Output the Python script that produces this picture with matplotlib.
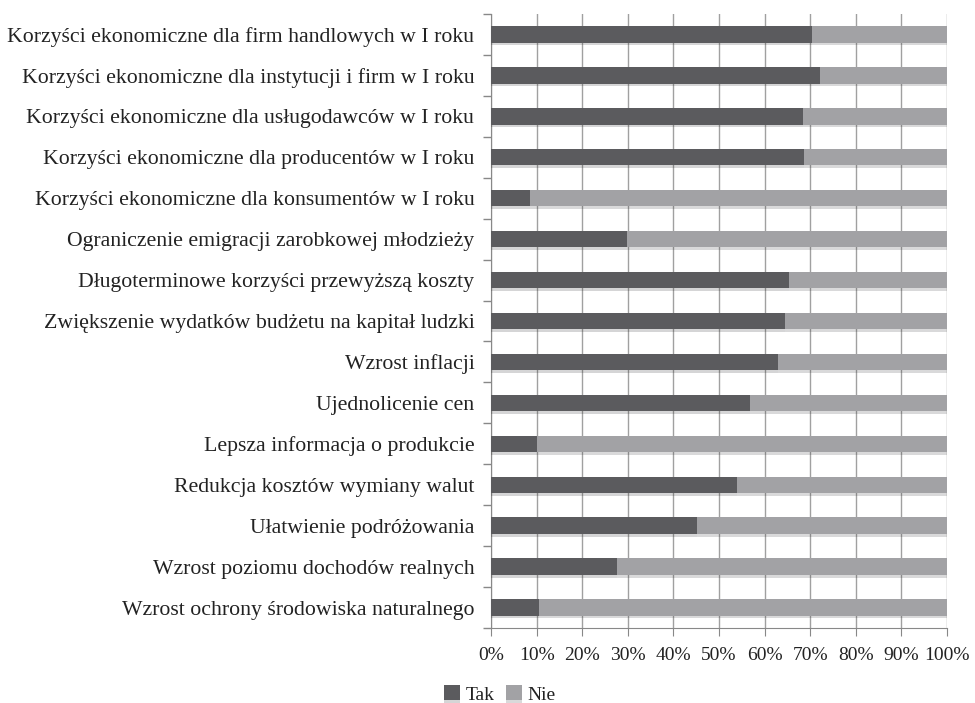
import numpy as np
import matplotlib
matplotlib.use("Agg")
import matplotlib.pyplot as plt
import matplotlib.patheffects as pe
from matplotlib.ticker import FixedLocator, PercentFormatter

plt.rcParams['font.family'] = ['Liberation Serif', 'DejaVu Serif']

# categories top to bottom
labels = [
    "Korzyści ekonomiczne dla firm handlowych w I roku",
    "Korzyści ekonomiczne dla instytucji i firm w I roku",
    "Korzyści ekonomiczne dla usługodawców w I roku",
    "Korzyści ekonomiczne dla producentów w I roku",
    "Korzyści ekonomiczne dla konsumentów w I roku",
    "Ograniczenie emigracji zarobkowej młodzieży",
    "Długoterminowe korzyści przewyższą koszty",
    "Zwiększenie wydatków budżetu na kapitał ludzki",
    "Wzrost inflacji",
    "Ujednolicenie cen",
    "Lepsza informacja o produkcie",
    "Redukcja kosztów wymiany walut",
    "Ułatwienie podróżowania",
    "Wzrost poziomu dochodów realnych",
    "Wzrost ochrony środowiska naturalnego",
]
tak = np.array([70.4, 72.1, 68.4, 68.6, 8.6, 29.8, 65.4, 64.5, 62.9, 56.8,
                10.1, 53.9, 45.2, 27.6, 10.5])
nie = 100 - tak

fig = plt.figure(figsize=(9.75, 7.03), dpi=100)
ax = fig.add_axes([0.5036, 0.1067, 0.4677, 0.8733])

y = np.arange(len(labels))[::-1]
shadow = [pe.SimplePatchShadow(offset=(0, -2), alpha=0.18), pe.Normal()]
b1 = ax.barh(y, tak, height=0.4, color="#5b5b5e", label="Tak", zorder=3)
b2 = ax.barh(y, nie, left=tak, height=0.4, color="#a2a2a5", label="Nie", zorder=3)
for b in list(b1) + list(b2):
    b.set_path_effects(shadow)

ax.set_xlim(0, 100)
ax.set_ylim(-0.5, len(labels) - 0.5)
ax.set_xticks(np.arange(0, 101, 10))
ax.xaxis.set_major_formatter(PercentFormatter(decimals=0))
ax.set_yticks(y)
ax.set_yticklabels(labels)
ax.yaxis.set_minor_locator(FixedLocator(np.arange(-0.5, len(labels), 1)))
ax.tick_params(axis='y', which='major', length=0, pad=12, labelsize=15.7, colors="#222222")
ax.tick_params(axis='y', which='minor', length=6, color="#888888", width=1)
ax.tick_params(axis='x', length=6, color="#888888", labelsize=14, labelcolor="#222222", pad=8)

ax.grid(axis='x', color="#a0a0a0", linewidth=1, zorder=0)
for s in ['top', 'right']:
    ax.spines[s].set_visible(False)
for s in ['left', 'bottom']:
    ax.spines[s].set_color("#888888")

leg = fig.legend(handles=[b1, b2], loc='center', bbox_to_anchor=(0.513, 0.012),
                 ncol=2, frameon=False, prop={'family': 'Liberation Serif', 'size': 14},
                 handlelength=0.8, handleheight=0.8,
                 handletextpad=0.3, columnspacing=0.6, borderpad=0)
for t in leg.get_texts():
    t.set_color("#222222")

fig.savefig("out.png", dpi=100)
